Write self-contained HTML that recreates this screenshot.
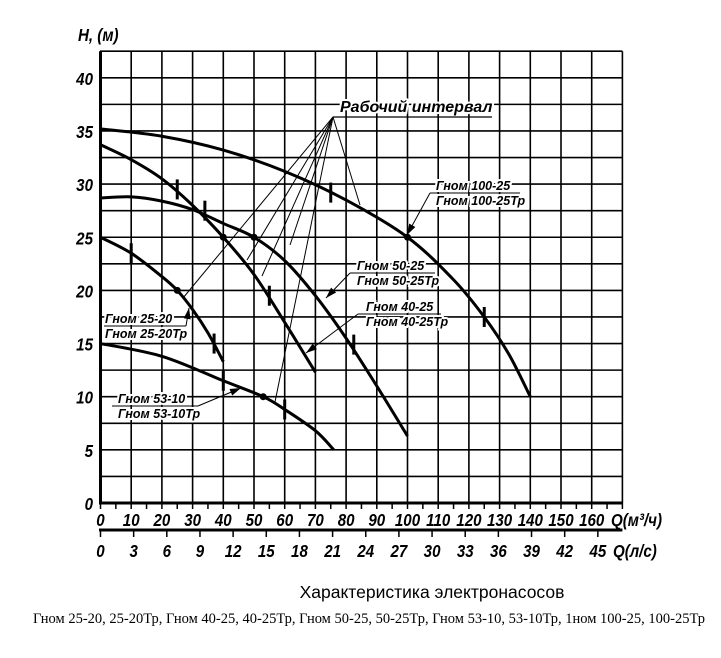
<!DOCTYPE html>
<html><head><meta charset="utf-8"><style>
body{margin:0;background:#fff;width:721px;height:653px;overflow:hidden}
svg text{font-family:"Liberation Sans",sans-serif}
.t{font-weight:bold;font-style:italic;font-size:18px}
.l{font-weight:bold;font-style:italic;font-size:12.5px;paint-order:stroke;stroke:#fff;stroke-width:4px}
</style></head><body>
<svg id="s" width="721" height="653" xmlns="http://www.w3.org/2000/svg"></svg>
<script>
const s=document.getElementById('s');
const X=q=>100.5+3.07*q, Y=h=>503-10.63*h;
let o='';
for(let q=10;q<=170;q+=10){o+=`<line x1="${X(q)}" y1="${Y(42.5)}" x2="${X(q)}" y2="503" stroke="#000" stroke-width="1.6"/>`;}
for(let h=2.5;h<=42.5;h+=2.5){o+=`<line x1="100" y1="${Y(h)}" x2="${X(170)}" y2="${Y(h)}" stroke="#000" stroke-width="1.6"/>`;}
o+=`<line x1="100.5" y1="${Y(42.5)}" x2="100.5" y2="504" stroke="#000" stroke-width="3"/>`;
o+=`<line x1="99" y1="503" x2="${X(170)}" y2="503" stroke="#000" stroke-width="3"/>`;
o+=`<line x1="99" y1="530" x2="${X(170)}" y2="530" stroke="#000" stroke-width="3"/>`;
for(let q=0;q<=170;q+=5){o+=`<line x1="${X(q)}" y1="503" x2="${X(q)}" y2="509" stroke="#000" stroke-width="1.5"/>`;}
function tt(x,y,txt,anch){return `<text class="t" transform="translate(${x},${y}) scale(0.84,1)" text-anchor="${anch}">${txt}</text>`;}
for(let q=0;q<=160;q+=10){o+=tt(X(q),526,q,'middle');}
for(let l=0;l<=45;l+=3){let q=l*3.6;o+=`<line x1="${X(q)}" y1="530" x2="${X(q)}" y2="537" stroke="#000" stroke-width="1.5"/>`;o+=tt(X(q),557,l,'middle');}
o+=tt(611,526,'Q(м³/ч)','start')+tt(613,557,'Q(л/с)','start');
for(let h=0;h<=40;h+=5){o+=tt(93,Y(h)+7,h,'end');}
o+=tt(78,41,'H, (м)','start');
function curve(pts){let P=pts.map(p=>[X(p[0]),Y(p[1])]);let d=`M${P[0][0]},${P[0][1]}`;
for(let i=0;i<P.length-1;i++){let p0=P[i-1]||P[i],p1=P[i],p2=P[i+1],p3=P[i+2]||p2;
d+=` C${p1[0]+(p2[0]-p0[0])/6},${p1[1]+(p2[1]-p0[1])/6} ${p2[0]-(p3[0]-p1[0])/6},${p2[1]-(p3[1]-p1[1])/6} ${p2[0]},${p2[1]}`;}
o+=`<path d="${d}" fill="none" stroke="#000" stroke-width="3"/>`;}
curve([[0,35.2],[20,34.5],[40,33.2],[60,31.2],[80,28.5],[100,25],[115,21],[125,17.5],[133,14],[140,10]]);
curve([[0,28.7],[10,28.8],[20,28.4],[30,27.6],[40,26.3],[50,25],[60,22.8],[70,19.5],[80,15.5],[90,11],[100,6.3]]);
curve([[0,33.7],[10,32.3],[20,30.5],[30,28],[40,25],[50,21.5],[60,17],[70,12.3]]);
curve([[0,25],[10,23.5],[20,21.3],[25,20],[30,18.2],[35,16],[40,13.3]]);
curve([[0,15],[20,13.8],[40,11.5],[53,10],[60,8.8],[70,6.8],[76,5]]);
function tk(q,h){o+=`<line x1="${X(q)}" y1="${Y(h)-10}" x2="${X(q)}" y2="${Y(h)+10}" stroke="#000" stroke-width="3"/>`;}
tk(75,29.2);tk(125,17.5);tk(34,27.5);tk(82.5,14.9);tk(25,29.5);tk(55,19.5);tk(10,23.5);tk(37,15);tk(40,11.5);tk(60,8.8);
[[100,25],[40,25],[50,25],[25,20],[53,10]].forEach(p=>o+=`<circle cx="${X(p[0])}" cy="${Y(p[1])}" r="3.5"/>`);
[[183,298],[247,260],[262,276],[275,402],[290,245],[360,205]].forEach(p=>o+=`<line x1="333" y1="117" x2="${p[0]}" y2="${p[1]}" stroke="#000" stroke-width="1"/>`);
o+=`<text class="l" x="340" y="112" style="font-size:16px">Рабочий интервал</text><line x1="333" y1="117" x2="492" y2="117" stroke="#000" stroke-width="1.2"/>`;
function lab(x,y,a,b,ux1,ux2,lx,ly,ax,ay){o+=`<text class="l" x="${x}" y="${y}">${a}</text><text class="l" x="${x}" y="${y+15}">${b}</text><line x1="${ux1}" y1="${y+3}" x2="${ux2}" y2="${y+3}" stroke="#000" stroke-width="1"/>`;
o+=`<line x1="${lx}" y1="${ly}" x2="${ax}" y2="${ay}" stroke="#000" stroke-width="1"/>`;
let ang=Math.atan2(ay-ly,ax-lx),L=11,w=3.5;let bx=ax-L*Math.cos(ang),by=ay-L*Math.sin(ang);
o+=`<polygon points="${ax},${ay} ${bx+w*Math.sin(ang)},${by-w*Math.cos(ang)} ${bx-w*Math.sin(ang)},${by+w*Math.cos(ang)}"/>`;}
lab(436,190,'Гном 100-25','Гном 100-25Тр',430,520,430,193,407,235);
lab(357,270,'Гном 50-25','Гном 50-25Тр',350,435,350,273,326,298);
lab(366,311,'Гном 40-25','Гном 40-25Тр',358,441,358,314,306,353);
lab(105,323,'Гном 25-20','Гном 25-20Тр',104,186,186,326,189,308);
lab(118,403,'Гном 53-10','Гном 53-10Тр',112,198,198,406,241,388);
o+=`<text x="432" y="598" text-anchor="middle" style="font-size:17.5px">Характеристика электронасосов</text>`;
o+=`<text x="369" y="623" text-anchor="middle" style="font-family:'Liberation Serif',serif;font-size:14.5px">Гном 25-20, 25-20Тр, Гном 40-25, 40-25Тр, Гном 50-25, 50-25Тр, Гном 53-10, 53-10Тр, 1ном 100-25, 100-25Тр</text>`;
s.innerHTML=o;
</script>
</body></html>
